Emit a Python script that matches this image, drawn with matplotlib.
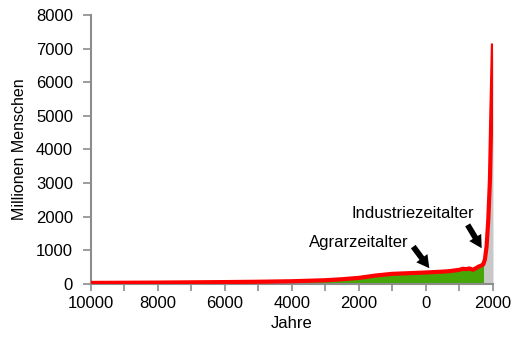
import numpy as np
import matplotlib
matplotlib.use('Agg')
import matplotlib.pyplot as plt

plt.rcParams['font.family'] = ['Liberation Sans', 'DejaVu Sans']

# Jahr (negativ = v. Chr.) und Bevoelkerung in Millionen
jahre = [-10000, -8000, -6000, -5000, -4000, -3500, -3000, -2500, -2000, -1500,
         -1000, -500, 0, 500, 700, 1000, 1100, 1200, 1300, 1400, 1500, 1560,
         1660, 1710, 1760, 1810, 1860, 1910, 1950, 2000]
menschen = [30, 40, 55, 65, 80, 95, 110, 140, 180, 250,
            300, 320, 340, 365, 380, 420, 450, 440, 460, 420, 470, 510,
            550, 580, 730, 1120, 1900, 3100, 5000, 7150]
grenze_industrie = 1730

xticks = list(range(-10000, 2001, 1000))
xticklabels = [str(abs(t)) if t % 2000 == 0 else '' for t in xticks]
yticks = list(range(0, 8001, 1000))

fig = plt.figure(figsize=(5.2, 3.38), dpi=100)
ax = fig.add_axes([0.175, 0.16, 0.773, 0.796])

x = np.array(jahre)
y = np.array(menschen)
agrar = x <= grenze_industrie
xa = np.append(x[agrar], grenze_industrie)
ya = np.append(y[agrar], np.interp(grenze_industrie, x, y))
ax.fill_between(xa, 0, ya, color='#46a608', lw=0)
xi = np.insert(x[~agrar], 0, grenze_industrie)
yi = np.insert(y[~agrar], 0, np.interp(grenze_industrie, x, y))
ax.fill_between(xi, 0, yi, color='#c8c8c8', lw=0)
ax.plot(x, y, color='#ff0000', lw=3, solid_capstyle='butt', zorder=3)

ax.set_xlim(-10000, 2000)
ax.set_ylim(0, 8000)
ax.set_xticks(xticks)
ax.set_xticklabels(xticklabels)
ax.set_yticks(yticks)

for s in ['top', 'right']:
    ax.spines[s].set_visible(False)
for s in ['left', 'bottom']:
    ax.spines[s].set_color('#8c8c8c')
    ax.spines[s].set_linewidth(1.5)
ax.tick_params(axis='x', length=5, width=1.2, color='#8c8c8c', pad=4, labelsize=12)
ax.tick_params(axis='y', length=6, width=1.2, color='#8c8c8c', pad=7, labelsize=12)

ax.set_xlabel('Jahre', fontsize=12, labelpad=3)
ax.set_ylabel('Millionen Menschen', fontsize=11.5, labelpad=6)

pfeil = dict(arrowstyle='simple,head_length=0.9,head_width=1.0,tail_width=0.42',
             color='black', lw=0, shrinkA=0, shrinkB=0)
ax.text(-520, 1230, 'Agrarzeitalter', fontsize=12, ha='right', va='center')
ax.annotate('', xy=(100, 467), xytext=(-380, 1110), arrowprops=pfeil)
ax.text(1430, 2080, 'Industriezeitalter', fontsize=12, ha='right', va='center')
ax.annotate('', xy=(1663, 1062), xytext=(1245, 1755), arrowprops=pfeil)

fig.savefig('out.png', dpi=100)
